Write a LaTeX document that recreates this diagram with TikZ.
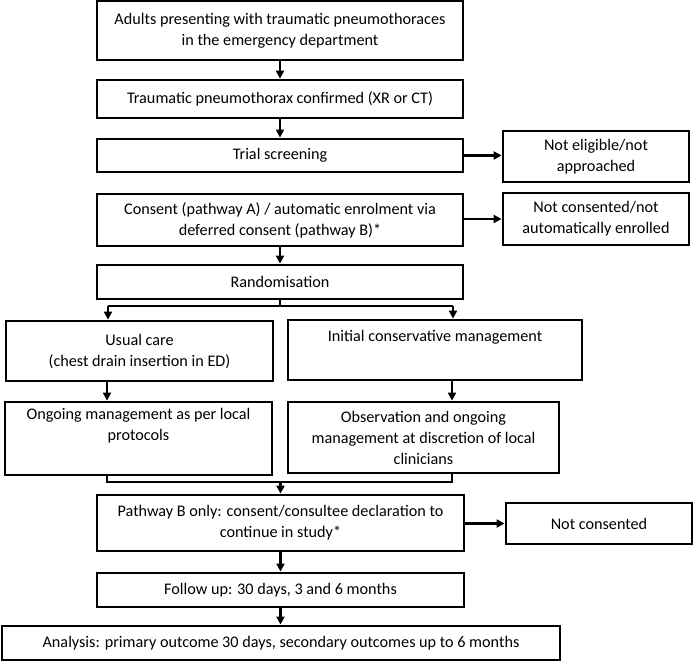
\documentclass[tikz,border=0pt]{standalone}
\usepackage{fontspec}
\setmainfont{Carlito}
\usetikzlibrary{arrows.meta}
\begin{document}
\begin{tikzpicture}[x=1pt,y=-1pt,
  box/.style={draw=black,line width=2.8pt,rectangle,inner sep=0pt,align=center,
    font=\fontsize{16.2}{21}\selectfont},
  conn/.style={draw=black,line width=2.2pt},
  arr/.style={conn,-{Triangle[length=8pt,width=8pt]}}]
\useasboundingbox (0,0) rectangle (694,662);
\node[box,minimum width=366pt,minimum height=59pt] (b1) at (280,30.5)
  {Adults presenting with traumatic pneumothoraces\\in the emergency department};
\node[box,minimum width=366pt,minimum height=38pt] (b2) at (280,99)
  {Traumatic pneumothorax confirmed (XR or CT)};
\node[box,minimum width=366pt,minimum height=33pt] (b3) at (280,155.5)
  {Trial screening};
\node[box,minimum width=366pt,minimum height=52pt] (b4) at (280,220)
  {Consent (pathway A) / automatic enrolment via\\deferred consent (pathway B)*};
\node[box,minimum width=366pt,minimum height=34pt] (b5) at (280,282)
  {Randomisation};
\node[box,minimum width=186pt,minimum height=51pt] (ne) at (596,156.5)
  {Not eligible/not\\approached};
\node[box,minimum width=186pt,minimum height=52pt] (nc) at (596,219)
  {Not consented/not\\automatically enrolled};
\node[box,minimum width=267pt,minimum height=60pt] (uc) at (139.5,351)
  {Usual care\\(chest drain insertion in ED)};
\node[box,minimum width=294pt,minimum height=60pt] (ic) at (435,350)
  {Initial conservative management\\\strut};
\node[box,minimum width=267pt,minimum height=73pt] (og) at (138.5,438.5)
  {Ongoing management as per local\\protocols\\\strut};
\node[box,minimum width=271pt,minimum height=71pt] (ob) at (423.5,437.5)
  {Observation and ongoing\\management at discretion of local\\clinicians};
\node[box,minimum width=367pt,minimum height=56pt] (pb) at (280.5,523)
  {Pathway B only: consent/consultee declaration to\\continue in study*};
\node[box,minimum width=186pt,minimum height=41pt] (ncs) at (599,523.5)
  {Not consented};
\node[box,minimum width=367pt,minimum height=34pt] (fu) at (280.5,590)
  {Follow up: 30 days, 3 and 6 months};
\node[box,minimum width=558pt,minimum height=34pt] (an) at (281,643)
  {Analysis: primary outcome 30 days, secondary outcomes up to 6 months};
% connectors
\draw[arr] (b1) -- (b2);
\draw[arr] (b2) -- (b3);
\draw[arr] (b3.east) -- (b3.east -| ne.west);
\draw[arr] (b4.east |- nc.center) -- (nc.west);
\draw[arr] (b4) -- (b5);
\coordinate (br) at (280,306);
\coordinate (brl) at (108,306);
\coordinate (brr) at (453,306);
\draw[conn] (b5.south) -- (br);
\draw[conn] (brl) -- (brr);
\draw[arr] (brl) -- (brl |- uc.north);
\draw[arr] (brr) -- (brr |- ic.north);
\coordinate (ml) at (107,482);
\coordinate (mr) at (452,482);
\coordinate (mc) at (280.5,482);
\draw[arr] (ml |- uc.south) -- (ml |- og.north);
\draw[arr] (mr |- ic.south) -- (mr |- ob.north);
\draw[conn] (ml |- og.south) -- (ml) -- (mr) -- (mr |- ob.south);
\draw[arr] (mc) -- (pb.north);
\draw[arr] (pb.east |- ncs.center) -- (ncs.west);
\draw[arr] (pb) -- (fu);
\draw[arr] (fu) -- (an.north -| fu.south);
\end{tikzpicture}
\end{document}
